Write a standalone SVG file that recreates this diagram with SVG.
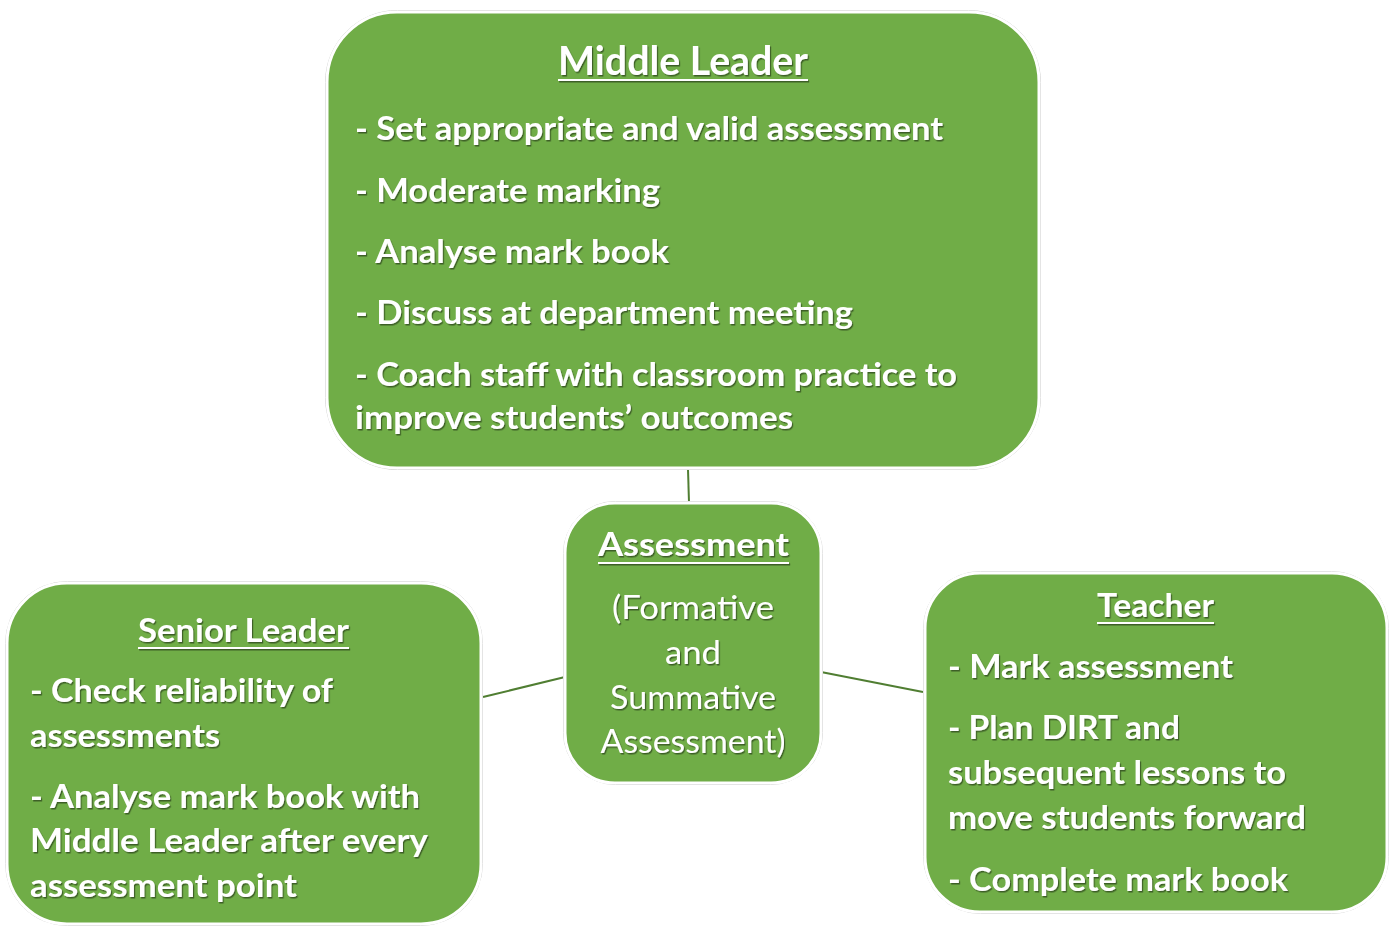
<svg xmlns="http://www.w3.org/2000/svg" width="1391" height="929" viewBox="0 0 1391 929">
  <defs>
    <filter id="txtShadow" x="-5%" y="-20%" width="110%" height="150%">
      <feDropShadow dx="1.2" dy="1.5" stdDeviation="0.7" flood-color="#000000" flood-opacity="0.45"/>
    </filter>
  </defs>
  <style>
    .box { fill: #70ad47; stroke: #ffffff; stroke-width: 3; }
    .edge { fill: none; stroke: #c9c9c9; stroke-width: 1; }
    .link { stroke: #507e32; stroke-width: 2; fill: none; }
    text { fill: #ffffff; font-family: Lato, "Open Sans", "Liberation Sans", sans-serif; }
    .b { font-weight: 700; font-size: 32px; }
    .r { font-weight: 400; font-size: 32px; }
    .h1 { font-weight: 700; font-size: 40px; }
    .ul { stroke: #ffffff; stroke-width: 2; }
    .t { filter: url(#txtShadow); }
  </style>
  <rect width="1391" height="929" fill="#ffffff"/>

  <!-- connectors -->
  <g id="connectors">
    <line class="link" x1="688" y1="469" x2="689" y2="503"/>
    <line class="link" x1="483" y1="697" x2="565" y2="677"/>
    <line class="link" x1="821" y1="672" x2="923" y2="692"/>
  </g>

  <!-- Middle Leader -->
  <g id="middle-leader">
    <rect class="edge" x="325.5" y="10.5" width="715" height="459" rx="72"/>
    <rect class="box" x="327" y="12" width="712" height="456" rx="70"/>
    <g class="t">
      <text class="h1" x="558" y="75" textLength="250" lengthAdjust="spacingAndGlyphs">Middle Leader</text>
      <line class="ul" x1="558" y1="80" x2="808" y2="80"/>
      <text class="b" x="355" y="140" textLength="588" lengthAdjust="spacingAndGlyphs">- Set appropriate and valid assessment</text>
      <text class="b" x="355" y="202" textLength="305" lengthAdjust="spacingAndGlyphs">- Moderate marking</text>
      <text class="b" x="355" y="263" textLength="314" lengthAdjust="spacingAndGlyphs">- Analyse mark book</text>
      <text class="b" x="355" y="324" textLength="498" lengthAdjust="spacingAndGlyphs">- Discuss at department meeting</text>
      <text class="b" x="355" y="386" textLength="602" lengthAdjust="spacingAndGlyphs">- Coach staff with classroom practice to</text>
      <text class="b" x="355" y="429" textLength="438" lengthAdjust="spacingAndGlyphs">improve students’ outcomes</text>
    </g>
  </g>

  <!-- Assessment (centre) -->
  <g id="assessment">
    <rect class="edge" x="563.5" y="501.5" width="259" height="283" rx="52"/>
    <rect class="box" x="565" y="503" width="256" height="280" rx="50"/>
    <g class="t">
      <text class="b" x="598" y="556" textLength="191" lengthAdjust="spacingAndGlyphs">Assessment</text>
      <line class="ul" x1="598" y1="563" x2="789" y2="563"/>
      <text class="r" x="693" y="619" text-anchor="middle" textLength="162" lengthAdjust="spacingAndGlyphs">(Formative</text>
      <text class="r" x="693" y="664" text-anchor="middle" textLength="56" lengthAdjust="spacingAndGlyphs">and</text>
      <text class="r" x="693" y="709" text-anchor="middle" textLength="166" lengthAdjust="spacingAndGlyphs">Summative</text>
      <text class="r" x="693" y="753" text-anchor="middle" textLength="185" lengthAdjust="spacingAndGlyphs">Assessment)</text>
    </g>
  </g>

  <!-- Senior Leader -->
  <g id="senior-leader">
    <rect class="edge" x="5.5" y="581.5" width="477" height="344" rx="62"/>
    <rect class="box" x="7" y="583" width="474" height="341" rx="60"/>
    <g class="t">
      <text class="b" x="138" y="642" textLength="211" lengthAdjust="spacingAndGlyphs">Senior Leader</text>
      <line class="ul" x1="138" y1="648" x2="349" y2="648"/>
      <text class="b" x="30" y="702" textLength="303" lengthAdjust="spacingAndGlyphs">- Check reliability of</text>
      <text class="b" x="30" y="747" textLength="190" lengthAdjust="spacingAndGlyphs">assessments</text>
      <text class="b" x="30" y="808" textLength="390" lengthAdjust="spacingAndGlyphs">- Analyse mark book with</text>
      <text class="b" x="30" y="852" textLength="398" lengthAdjust="spacingAndGlyphs">Middle Leader after every</text>
      <text class="b" x="30" y="897" textLength="267" lengthAdjust="spacingAndGlyphs">assessment point</text>
    </g>
  </g>

  <!-- Teacher -->
  <g id="teacher">
    <rect class="edge" x="923.5" y="571.5" width="465" height="342" rx="57"/>
    <rect class="box" x="925" y="573" width="462" height="339" rx="55"/>
    <g class="t">
      <text class="b" x="1097" y="617" textLength="117" lengthAdjust="spacingAndGlyphs">Teacher</text>
      <line class="ul" x1="1097" y1="623" x2="1214" y2="623"/>
      <text class="b" x="948" y="678" textLength="285" lengthAdjust="spacingAndGlyphs">- Mark assessment</text>
      <text class="b" x="948" y="739" textLength="232" lengthAdjust="spacingAndGlyphs">- Plan DIRT and</text>
      <text class="b" x="948" y="784" textLength="338" lengthAdjust="spacingAndGlyphs">subsequent lessons to</text>
      <text class="b" x="948" y="829" textLength="358" lengthAdjust="spacingAndGlyphs">move students forward</text>
      <text class="b" x="948" y="891" textLength="340" lengthAdjust="spacingAndGlyphs">- Complete mark book</text>
    </g>
  </g>
</svg>
